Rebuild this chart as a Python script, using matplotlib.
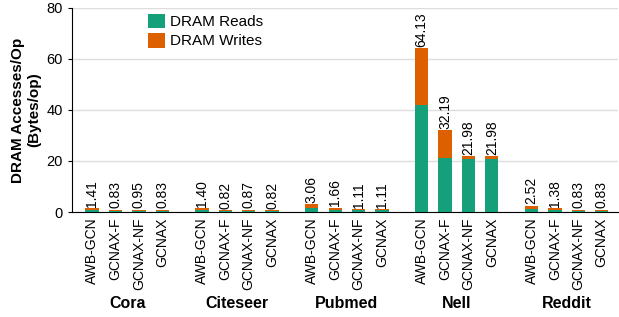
import matplotlib
matplotlib.use("Agg")
import matplotlib.pyplot as plt
import numpy as np

plt.rcParams['font.family'] = ['Liberation Sans', 'DejaVu Sans']

# data
datasets = ['Cora', 'Citeseer', 'Pubmed', 'Nell', 'Reddit']
designs = ['AWB-GCN', 'GCNAX-F', 'GCNAX-NF', 'GCNAX']
totals = [[1.41, 0.83, 0.95, 0.83],
          [1.40, 0.82, 0.87, 0.82],
          [3.06, 1.66, 1.11, 1.11],
          [64.13, 32.19, 21.98, 21.98],
          [2.52, 1.38, 0.83, 0.83]]
reads = [[0.85, 0.50, 0.58, 0.50],
         [0.85, 0.50, 0.53, 0.50],
         [1.45, 0.90, 0.62, 0.62],
         [42.0, 21.0, 20.9, 20.9],
         [1.20, 0.72, 0.45, 0.45]]

green = '#15a07a'
orange = '#dc6000'

fig = plt.figure(figsize=(6.19, 3.17), dpi=100)
ax = fig.add_axes([72 / 619, 1 - 212 / 317, 546 / 619, 204 / 317])

gap = 4.7
xs, xl = [], []
for g, name in enumerate(datasets):
    x = g * gap + np.arange(len(designs))
    r = np.array(reads[g])
    t = np.array(totals[g])
    ax.bar(x, r, width=0.57, color=green, zorder=3,
           label='DRAM Reads' if g == 0 else None)
    ax.bar(x, t - r, bottom=r, width=0.57, color=orange, zorder=3,
           label='DRAM Writes' if g == 0 else None)
    for xi, ti in zip(x, t):
        ax.annotate(f'{ti:.2f}', (xi, ti), xytext=(0, 1), textcoords='offset points',
                    rotation=90, ha='center', va='bottom', fontsize=10)
    xs.extend(x)
    xl.extend(designs)
    ax.text(g * gap + 1.5, -0.41, name, transform=ax.get_xaxis_transform(),
            ha='center', va='top', fontsize=11.5, fontweight='bold')

ax.set_xticks(xs)
ax.set_xticklabels(xl, rotation=90, fontsize=10)
ax.tick_params(axis='x', length=0, pad=4)
ax.tick_params(axis='y', labelsize=10.5, length=3)
ax.set_xlim(-0.86, 22.5)
ax.set_ylim(0, 80)
ax.set_yticks([0, 20, 40, 60, 80])
ax.grid(axis='y', color='#dddddd', linewidth=1, zorder=0)
ax.spines['top'].set_visible(False)
ax.spines['right'].set_visible(False)
ax.set_ylabel('DRAM Accesses/Op\n(Bytes/op)', fontsize=11, fontweight='bold')

ax.legend(loc='upper left', bbox_to_anchor=(0.12, 1.025), frameon=False,
          fontsize=11, handlelength=1.1, handleheight=1.1, handletextpad=0.3,
          labelspacing=0.25, borderaxespad=0.3)

fig.savefig('out.png', dpi=100)
